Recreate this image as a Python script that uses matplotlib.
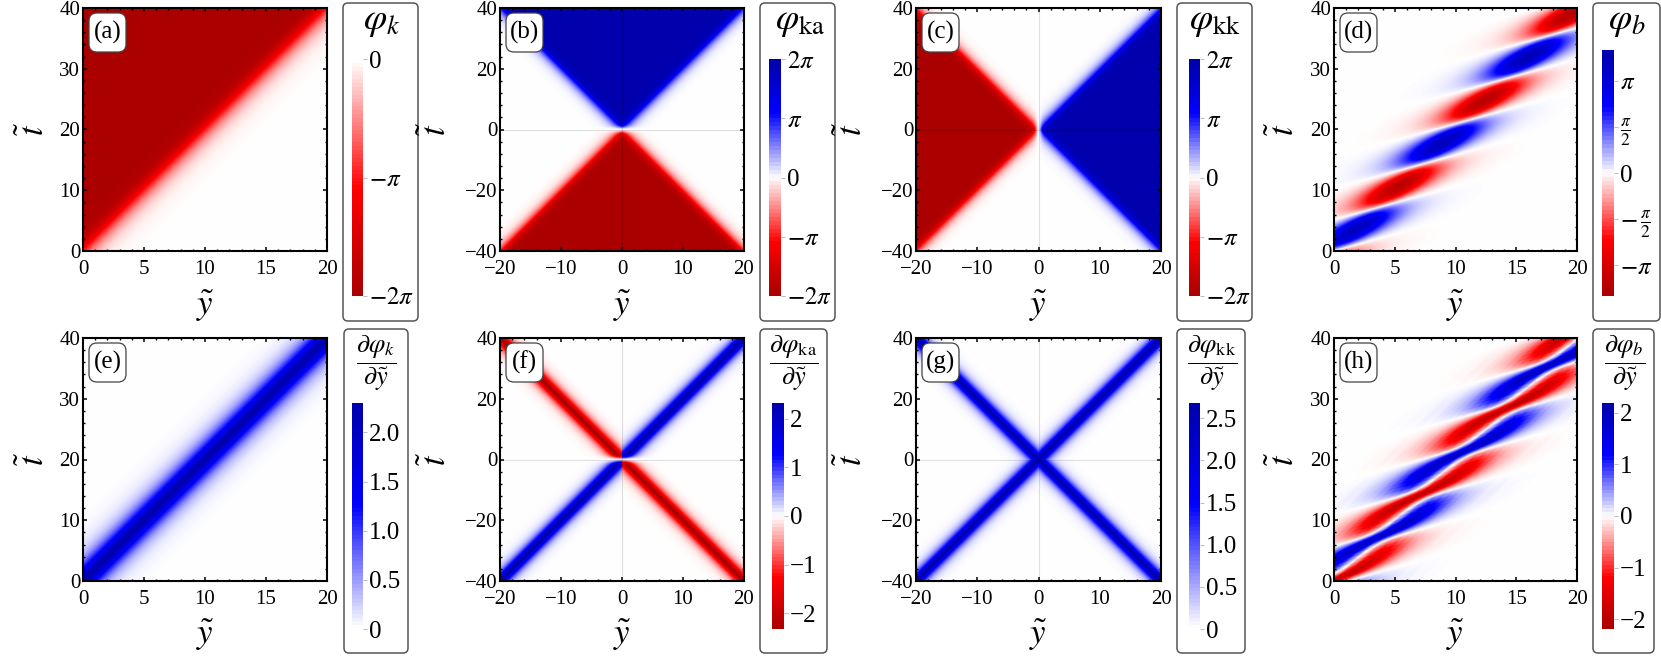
import numpy as np
import matplotlib
matplotlib.use('Agg')
import matplotlib.pyplot as plt
from matplotlib.colors import LinearSegmentedColormap, Normalize
from matplotlib.patches import FancyBboxPatch
from matplotlib.ticker import MultipleLocator

W, H = 1661, 656
plt.rcParams['font.family'] = ['Liberation Serif', 'DejaVu Serif']
plt.rcParams['mathtext.fontset'] = 'stix'
plt.rcParams['axes.unicode_minus'] = True

PI = np.pi
# Profile of the kink, read across the band in panels (e), (f), (g)
kink_offset = [-7, -6, -5.5, -5, -4.5, -4, -3.5, -3, -2.5, -2, -1.5, -1, -.5, 0,
               .5, 1, 1.5, 2, 2.5, 3, 3.5, 4, 4.5, 5, 5.5, 6, 7]
kink_level = [0, .0007, .0012, .002, .0036, .0064, .0114, .02, .036, .064, .113, .196, .32, .5,
              .68, .804, .887, .936, .964, .98, .9886, .9936, .9964, .998, .9988, .9993, 1]
# Edge of the wedge, read across the edge in panels (a), (b), (c)
wedge_level = [0, .0007, .0012, .002, .0036, .0064, .0114, .02, .036, .064, .113, .196, .32, .5,
               .72, .87, .95, .98, .99, .995, .997, .998, .999, .9995, .9998, .9999, 1]
# Fade-in near the crossing point in panels (b), (c), (f)
fade_radius = [0, .4, .8, 1.2, 1.6, 2.2, 3]
fade_level = [0, .25, .6, .85, .95, 1, 1]
# Breather panel (d): lobes along the track
lobe_spacing = 5.15
lobe_tilt = 0.55
lobe_index = [-2, -1, 0, 1, 2, 3, 4, 5, 6]
lobe_peak = [3.5, -3.5, 3.8, -3.9, 3.9, -3.9, 4.0, -4.0, 4.0]
lobe_phase = [-.1, -.05, 0, .05, .1, .15, .2, .3, .4, .5, .6, .7, .8, .85, .9, .95, 1, 1.05, 1.1]
lobe_shape = [-.309, -.156, 0, .156, .309, .454, .588, .809, .951, 1, .951, .809, .588, .454, .309, .156, 0, -.156, -.309]
track_offset = [-14, -10, -8, -7, -6, -5, -4.5, -4, -3.5, -3, -2.5, -2, -1.5, -1, -.5, 0,
                .5, 1, 1.5, 2, 2.5, 3, 3.5, 4, 4.5, 5, 6, 7, 8, 10, 14]
track_level = [0, .0002, .0015, .0037, .009, .022, .035, .055, .085, .133, .208, .32, .485, .698, .903, 1,
               .903, .698, .485, .32, .208, .133, .085, .055, .035, .022, .009, .0037, .0015, .0002, 0]
# Flattening of the lobe tops
flat_in = [-1.1, -1, -.9, -.8, -.7, -.6, -.5, -.4, -.3, -.2, -.1, 0, .1, .2, .3, .4, .5, .6, .7, .8, .9, 1, 1.1]
flat_out = [-1.04, -1, -.949, -.89, -.822, -.743, -.652, -.546, -.428, -.295, -.15, 0,
            .15, .295, .428, .546, .652, .743, .822, .89, .949, 1, 1.04]

panel_labels = ['(a)', '(b)', '(c)', '(d)', '(e)', '(f)', '(g)', '(h)']
panel_x = [(83, 327), (500, 744), (916, 1161), (1334, 1577)]
row_y = [(8, 251), (338, 581)]
ylabel_x = [35, 437, 853, 1285]
xlabel_y = [306, 635]

bar_titles = [r'$\varphi_{k}$', r'$\varphi_{\mathrm{ka}}$', r'$\varphi_{\mathrm{kk}}$', r'$\varphi_{b}$',
              r'$\dfrac{\partial\varphi_{k}}{\partial\tilde{y}}$',
              r'$\dfrac{\partial\varphi_{\mathrm{ka}}}{\partial\tilde{y}}$',
              r'$\dfrac{\partial\varphi_{\mathrm{kk}}}{\partial\tilde{y}}$',
              r'$\dfrac{\partial\varphi_{b}}{\partial\tilde{y}}$']
bar_range = [(-2*PI, 0), (-2*PI, 2*PI), (-2*PI, 2*PI), (-4.2, 4.2),
             (0, 2.3), (-2.32, 2.32), (0, 2.68), (-2.19, 2.19)]
bar_ticks = [[-2*PI, -PI, 0], [-2*PI, -PI, 0, PI, 2*PI], [-2*PI, -PI, 0, PI, 2*PI],
             [-PI, -PI/2, 0, PI/2, PI],
             [0, .5, 1, 1.5, 2], [-2, -1, 0, 1, 2], [0, .5, 1, 1.5, 2, 2.5], [-2, -1, 0, 1, 2]]
bar_ticklabels = [[r'$-2\pi$', r'$-\pi$', '0'],
                  [r'$-2\pi$', r'$-\pi$', '0', r'$\pi$', r'$2\pi$'],
                  [r'$-2\pi$', r'$-\pi$', '0', r'$\pi$', r'$2\pi$'],
                  [r'$-\pi$', r'$-\,\frac{\pi}{2}$', '0', r'$\frac{\pi}{2}$', r'$\pi$'],
                  ['0', '0.5', '1.0', '1.5', '2.0'],
                  ['\u22122', '\u22121', '0', '1', '2'],
                  ['0', '0.5', '1.0', '1.5', '2.0', '2.5'],
                  ['\u22122', '\u22121', '0', '1', '2']]
bar_x = [(352, 363), (769, 781), (1189, 1200), (1602, 1614),
         (352, 363), (772, 784), (1189, 1200), (1602, 1614)]
bar_y = [(59, 296)] * 3 + [(50, 296)] + [(403, 629)] * 4
box_x = [(343, 418), (760, 835), (1177, 1252), (1593, 1660),
         (344, 408), (760, 827), (1177, 1245), (1593, 1654)]
box_y = [(3, 321)] * 4 + [(329, 653)] * 4
title_xy = [(382, 22), (800, 22), (1215, 22), (1627, 22),
            (376, 363), (794, 363), (1212, 363), (1625, 363)]

colors = [(0.67, 0, 0), (1, 0, 0), (1, 1, 1), (0, 0, 1), (0, 0, 0.68)]
cmap = LinearSegmentedColormap.from_list('rwb', list(zip([0, 0.225, 0.5, 0.775, 1], colors)), N=512)


def lookup(x, xs, ys, window=0.45):
    fine = np.linspace(xs[0], xs[-1], 6001)
    v = np.interp(fine, xs, ys)
    n = max(3, int(window / (fine[1] - fine[0])) | 1)
    k = np.ones(n) / n
    for _ in range(2):
        v = np.convolve(np.pad(v, n // 2, mode='edge'), k, mode='valid')
    return np.interp(x, fine, v)


def kink(d):
    return lookup(d, kink_offset, kink_level)


def wedge(d):
    return lookup(d, kink_offset, wedge_level)


def kink_slope(d):
    h = 0.01
    return 2 * PI * (kink(d + h) - kink(d - h)) / (2 * h)


def fade(r):
    return np.interp(r, fade_radius, fade_level)


def breather(y, t):
    v = t - lobe_tilt * y
    d = y - t / 2
    k = np.floor(v / lobe_spacing)
    frac = v / lobe_spacing - k
    peak = np.interp(k, lobe_index, lobe_peak)
    core = lookup(frac, lobe_phase, lobe_shape, 0.03) * lookup(d, track_offset, track_level, 0.3)
    return peak * lookup(core, flat_in, flat_out, 0.05)


N = 490
y_pos = np.linspace(0, 20, N)
t_pos = np.linspace(0, 40, N)
y_all = np.linspace(-20, 20, N)
t_all = np.linspace(-40, 40, N)
Yp, Tp = np.meshgrid(y_pos, t_pos)
Ya, Ta = np.meshgrid(y_all, t_all)

phi_k = -2 * PI * wedge(Tp / 2 - Yp)
phi_ka = np.sign(Ta) * 2 * PI * wedge(np.abs(Ta) / 2 - np.abs(Ya)) * fade(np.abs(Ta))
phi_kk = np.sign(Ya) * 2 * PI * wedge(np.abs(Ya) - np.abs(Ta) / 2) * fade(2 * np.abs(Ya))
phi_b = breather(Yp, Tp)
dphi_k = kink_slope(Yp - Tp / 2)
band = kink_slope(np.abs(Ya) - np.abs(Ta) / 2)
dphi_ka = np.sign(Ya * Ta) * band * fade(np.abs(Ta)) * 2.32 / band.max()
dphi_kk = band * 2.65 / band.max()
dphi_b = np.gradient(phi_b, y_pos, axis=1)
fields = [phi_k, phi_ka, phi_kk, phi_b, dphi_k, dphi_ka, dphi_kk, dphi_b]
two_sided = [False, True, True, False, False, True, True, False]

fig = plt.figure(figsize=(W / 100, H / 100), dpi=100)


def axes_px(x0, x1, y0, y1, **kw):
    return fig.add_axes([x0 / W, 1 - y1 / H, (x1 - x0) / W, (y1 - y0) / H], **kw)


def fx(x):
    return x / W


def fy(y):
    return 1 - y / H


for i in range(8):
    row, col = i // 4, i % 4
    x0, x1 = panel_x[col]
    y0, y1 = row_y[row]
    ax = axes_px(x0, x1, y0, y1)
    both = two_sided[i]
    ext = [-20, 20, -40, 40] if both else [0, 20, 0, 40]
    lim = max(abs(bar_range[i][0]), abs(bar_range[i][1]))
    ax.imshow(fields[i], origin='lower', extent=ext, aspect='auto', cmap=cmap,
              norm=Normalize(-lim, lim), interpolation='bilinear')
    if both:
        ax.axhline(0, color='k', alpha=0.12, lw=0.8)
        ax.axvline(0, color='k', alpha=0.12, lw=0.8)
        ax.xaxis.set_major_locator(MultipleLocator(10))
        ax.xaxis.set_minor_locator(MultipleLocator(2))
        ax.yaxis.set_major_locator(MultipleLocator(20))
        ax.yaxis.set_minor_locator(MultipleLocator(4))
    else:
        ax.xaxis.set_major_locator(MultipleLocator(5))
        ax.xaxis.set_minor_locator(MultipleLocator(1))
        ax.yaxis.set_major_locator(MultipleLocator(10))
        ax.yaxis.set_minor_locator(MultipleLocator(2))
    ax.tick_params(which='both', direction='in', top=True, right=True, color='k')
    ax.tick_params(which='major', length=3.2, width=1.1, labelsize=15)
    ax.tick_params(which='minor', length=1.6, width=1.0)
    ax.tick_params(axis='x', which='major', pad=6.5)
    ax.tick_params(axis='y', which='major', pad=2)
    for s in ax.spines.values():
        s.set_linewidth(1.5)
    fig.text(fx((x0 + x1) / 2), fy(xlabel_y[row]), r'$\tilde{y}$', fontsize=25, ha='center', va='center')
    fig.text(fx(ylabel_x[col]), fy((y0 + y1) / 2), r'$\tilde{t}$', fontsize=25, rotation=90, ha='center', va='center')
    # panel tag
    fig.add_artist(FancyBboxPatch((x0 + 6, H - (y0 + 44)), 37, 39,
                                  boxstyle='round,pad=0,rounding_size=8', transform=None,
                                  fc='white', ec='#444444', lw=0.9, zorder=5))
    fig.text(fx(x0 + 24.5), fy(y0 + 24), panel_labels[i], fontsize=18, ha='center', va='center', zorder=6)

    # colour bar box
    bx0, bx1 = box_x[i]
    by0, by1 = box_y[i]
    fig.add_artist(FancyBboxPatch((bx0, H - by1), bx1 - bx0, by1 - by0,
                                  boxstyle='round,pad=0,rounding_size=5', transform=None,
                                  fc='white', ec='#555555', lw=1.1, zorder=-1))
    cax = axes_px(bar_x[i][0], bar_x[i][1], bar_y[i][0], bar_y[i][1])
    cax.set_zorder(2)
    lo, hi = bar_range[i]
    steps = np.linspace(lo, hi, 60).reshape(-1, 1)
    cax.imshow(steps, origin='lower', extent=[0, 1, lo, hi], aspect='auto', cmap=cmap,
               norm=Normalize(-lim, lim), interpolation='nearest')
    cax.set_xticks([])
    cax.yaxis.tick_right()
    cax.set_yticks(bar_ticks[i])
    cax.set_yticklabels(bar_ticklabels[i])
    cax.tick_params(length=3.2, width=0.7, color='#bbbbbb', labelsize=18, pad=1)
    for s in cax.spines.values():
        s.set_visible(False)
    fig.text(fx(title_xy[i][0]), fy(title_xy[i][1]), bar_titles[i],
             fontsize=27 if i < 4 else 19, ha='center', va='center')

fig.savefig('out.png', dpi=100)
